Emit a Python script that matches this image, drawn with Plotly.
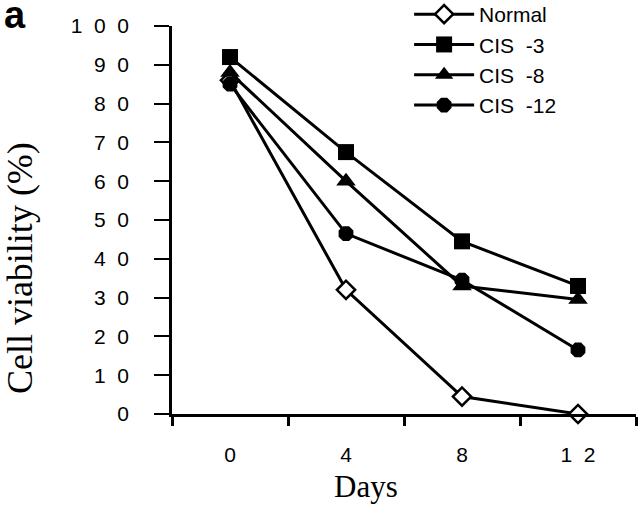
import plotly.graph_objects as go

# ---- data ----
days = ["0", "4", "8", "12"]
day_labels = ["0", "4", "8", "1\u00a0\u00a02"]
normal = [86, 32, 4.5, 0]
cis3 = [92, 67.5, 44.5, 33]
cis8 = [88, 60, 33, 29.5]
cis12 = [85, 46.5, 34.5, 16.5]
series_names = ["Normal", "CIS\u00a0\u00a0-3", "CIS\u00a0\u00a0-8", "CIS\u00a0\u00a0-12"]
y_ticks = [0, 10, 20, 30, 40, 50, 60, 70, 80, 90, 100]
y_tick_labels = ["0", "1\u00a0\u00a00", "2\u00a0\u00a00", "3\u00a0\u00a00", "4\u00a0\u00a00",
                 "5\u00a0\u00a00", "6\u00a0\u00a00", "7\u00a0\u00a00", "8\u00a0\u00a00",
                 "9\u00a0\u00a00", "1\u00a0\u00a00\u00a0\u00a00"]

SANS = "Liberation Sans, Arial, sans-serif"
SERIF = "Liberation Serif, Times New Roman, serif"

fig = go.Figure()

styles = [
    dict(symbol="diamond", size=14, color="white", line=dict(color="black", width=2.5)),
    dict(symbol="square", size=16, color="black", line=dict(color="black", width=0)),
    dict(symbol="triangle-up", size=17, color="black", line=dict(color="black", width=0)),
    dict(symbol="octagon", size=16, color="black", line=dict(color="black", width=0)),
]
for name, vals, mk in zip(series_names, [normal, cis3, cis8, cis12], styles):
    fig.add_trace(go.Scatter(
        x=days, y=vals, name=name, mode="lines+markers",
        line=dict(color="black", width=3),
        marker=mk, cliponaxis=False,
    ))

fig.update_layout(
    template="none",
    width=640, height=505,
    margin=dict(l=172, r=4, t=26, b=91, autoexpand=False),
    paper_bgcolor="white", plot_bgcolor="white",
    showlegend=True,
    legend=dict(
        x=0.511, y=1.0825, xanchor="left", yanchor="top",
        font=dict(family=SANS, size=21, color="black"),
        bgcolor="rgba(0,0,0,0)", borderwidth=0, tracegroupgap=0,
        itemwidth=60,
    ),
    xaxis=dict(
        type="category", categoryorder="array", categoryarray=days,
        range=[-0.5, 3.5],
        tickmode="array", tickvals=days, ticktext=day_labels,
        tickson="boundaries", ticks="outside", ticklen=9, tickwidth=2.5,
        tickcolor="black", showline=True, linecolor="black", linewidth=2.5,
        showgrid=False, zeroline=False, automargin=False,
        tickfont=dict(family=SANS, size=21, color="black"),
        ticklabelstandoff=20,
    ),
    yaxis=dict(
        range=[0, 100], tickmode="array", tickvals=y_ticks, ticktext=y_tick_labels,
        ticks="outside", ticklen=15, tickwidth=2, tickcolor="black",
        showline=True, linecolor="black", linewidth=2.5,
        showgrid=False, zeroline=False, automargin=False,
        tickfont=dict(family=SANS, size=21, color="black"),
        ticklabelstandoff=21,
    ),
)

fig.add_annotation(
    text="Cell viability (%)", textangle=-90,
    xref="paper", yref="paper", x=-0.3276, y=0.376,
    xanchor="center", yanchor="middle", showarrow=False,
    font=dict(family=SERIF, size=36, color="black"),
)
fig.add_annotation(
    text="Days", xref="paper", yref="paper", x=0.418, y=-0.188,
    xanchor="center", yanchor="middle", showarrow=False,
    font=dict(family=SERIF, size=31, color="black"),
)
fig.add_annotation(
    text="<b>a</b>", xref="paper", yref="paper", x=-0.338, y=1.028,
    xanchor="center", yanchor="middle", showarrow=False,
    font=dict(family=SANS, size=38, color="black"),
)

fig.write_html("out.html", config={"displayModeBar": False},
               post_script="document.body.style.margin='0px';")
